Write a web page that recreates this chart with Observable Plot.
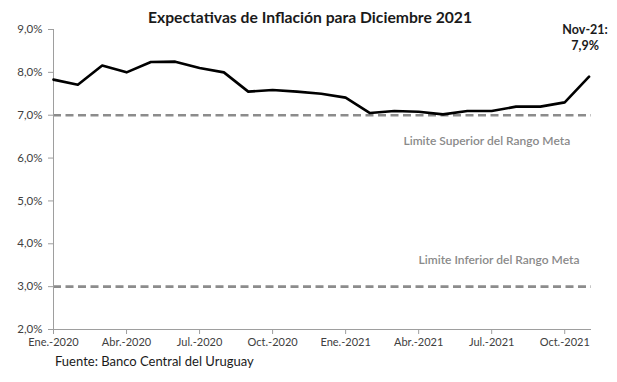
<!DOCTYPE html>
<html>
<head>
<meta charset="utf-8">
<script src="https://cdn.jsdelivr.net/npm/d3@7"></script>
<script src="https://cdn.jsdelivr.net/npm/@observablehq/plot@0.6"></script>
<style>
  html, body { margin: 0; padding: 0; background: #fff; }
  #wrap { position: relative; width: 617px; height: 382px; font-family: Lato, "Open Sans", sans-serif; }
  #title { position: absolute; left: 0; top: 8px; width: 620px; text-align: center; font-weight: 700; font-size: 15.7px; color: #1a1a1a; }
  #caption { position: absolute; left: 55px; top: 353px; font-size: 13px; color: #1a1a1a; }
  #chart { position: absolute; left: 0; top: 0; }
</style>
</head>
<body>
<div id="wrap">
  <div id="chart"></div>
  <div id="title">Expectativas de Inflación para Diciembre 2021</div>
  <div id="caption">Fuente: Banco Central del Uruguay</div>
</div>
<script>
const months = ["Ene.-2020","Feb.-2020","Mar.-2020","Abr.-2020","May.-2020","Jun.-2020","Jul.-2020","Ago.-2020","Set.-2020","Oct.-2020","Nov.-2020","Dic.-2020",
                "Ene.-2021","Feb.-2021","Mar.-2021","Abr.-2021","May.-2021","Jun.-2021","Jul.-2021","Ago.-2021","Set.-2021","Oct.-2021","Nov.-2021"];
const expectativas = [7.83, 7.71, 8.16, 8.00, 8.24, 8.25, 8.10, 8.00, 7.55, 7.59, 7.55, 7.50,
                      7.41, 7.05, 7.10, 7.08, 7.02, 7.10, 7.10, 7.20, 7.20, 7.30, 7.90];
const tickMonths = ["Ene.-2020","Abr.-2020","Jul.-2020","Oct.-2020","Ene.-2021","Abr.-2021","Jul.-2021","Oct.-2021"];
const yTicks = [2, 3, 4, 5, 6, 7, 8, 9];
const rangoMeta = [{valor: 7, label: "Limite Superior del Rango Meta", lx: 17.8, ly: 6.4},
                   {valor: 3, label: "Limite Inferior del Rango Meta", lx: 18.3, ly: 3.62}];
const ultimo = {label1: "Nov-21:", label2: "7,9%"};

const data = months.map((m, i) => ({i, m, v: expectativas[i]}));
const n = months.length;

const fmt = v => v.toFixed(1).replace(".", ",") + "%";

const chart = Plot.plot({
  width: 617,
  height: 382,
  marginTop: 29,
  marginBottom: 53,
  marginLeft: 53,
  marginRight: 26,
  style: {fontFamily: "Lato, 'Open Sans', sans-serif", background: "transparent"},
  x: {type: "linear", domain: [0, n - 1 + 0.1], axis: null},
  y: {domain: [2, 9], axis: null},
  marks: [
    Plot.ruleY(rangoMeta, {y: "valor", x1: 0, x2: n - 1 + 0.1, stroke: "#8c8c8c", strokeWidth: 2.6, strokeDasharray: "8,4.5"}),
    Plot.ruleX([0], {y1: 2, y2: 9, stroke: "#9e9e9e", strokeWidth: 1}),
    Plot.ruleY([2], {stroke: "#9e9e9e", strokeWidth: 1}),
    Plot.axisY(yTicks, {tickSize: 5, tickPadding: 6, tickFormat: fmt, fontSize: 11.5, fill: "#404040", stroke: "#9e9e9e", label: null}),
    Plot.axisX(tickMonths.map(t => months.indexOf(t)), {tickSize: 5, tickPadding: 4, tickFormat: i => months[i], fontSize: 11, fill: "#404040", stroke: "#9e9e9e", label: null}),
    Plot.line(data, {x: "i", y: "v", stroke: "#000", strokeWidth: 2.6, strokeLinejoin: "round"}),
    Plot.text(rangoMeta, {x: "lx", y: "ly", text: "label", fill: "#8a8a8a", fontSize: 12, fontWeight: 600}),
    Plot.text([data[n - 1]], {x: "i", y: "v", text: () => ultimo.label1, dy: -47, dx: -4, fill: "#1a1a1a", fontSize: 12.5, fontWeight: 700}),
    Plot.text([data[n - 1]], {x: "i", y: "v", text: () => ultimo.label2, dy: -31, dx: -4, fill: "#1a1a1a", fontSize: 12.5, fontWeight: 700})
  ]
});
document.getElementById("chart").appendChild(chart);
</script>
</body>
</html>
